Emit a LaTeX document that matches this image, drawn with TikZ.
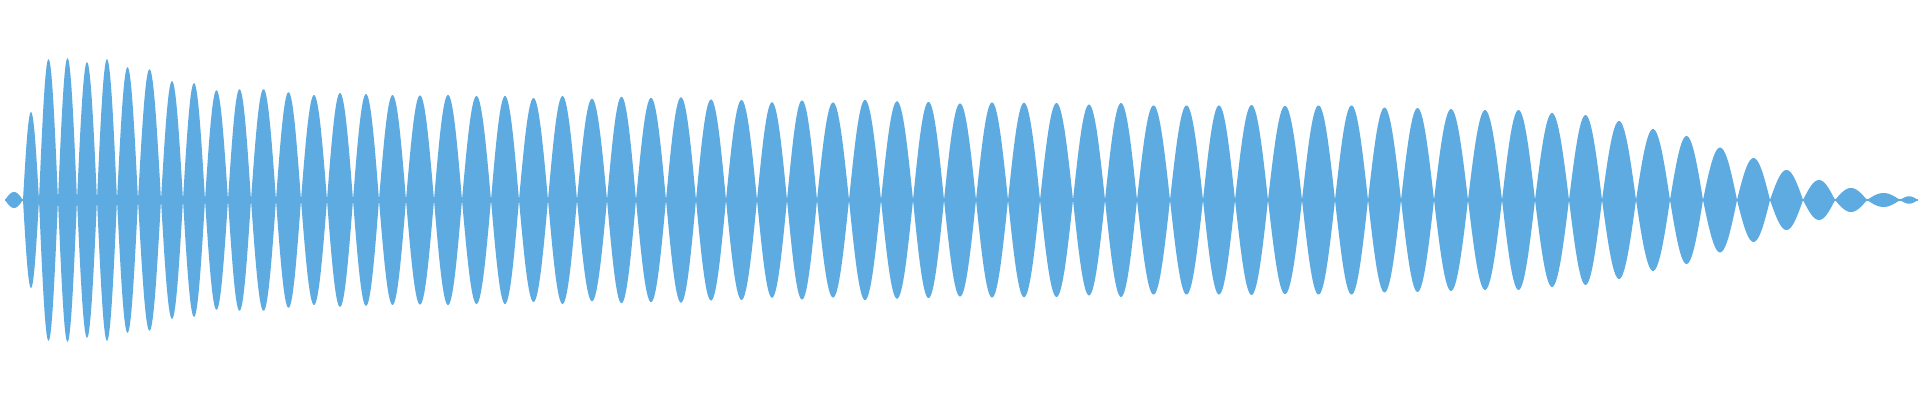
\documentclass[tikz,border=0pt]{standalone}
\definecolor{wave}{HTML}{5DABE1}
\begin{document}
\begin{tikzpicture}[x=0.5pt,y=-0.5pt]
\useasboundingbox (0,0) rectangle (1920,400);
\fill[white] (0,0) rectangle (1920,400);
\draw[wave,line width=1pt] (5,200) -- (1918,200);
\foreach \a/\b/\h in {
5/23/8,23/39/88,39/58/141,58/77/142,77/97/138,97/117/141,117/138/133,138/161/131,161/183/119,183/205/117,
205/228/110,228/251/111,251/276/111,276/301/108,301/327/105,327/353/107,353/379/106,
379/406/105,406/434/104.7,434/462/105.2,462/491/104,491/519/104,519/548/102,548/577/104,577/607/101.3,607/636/103.3,636/666/102.2,
666/696/102.8,696/726/100.7,726/757/100,757/787/97.8,787/817/99.7,817/849/97.7,849/881/100.2,881/913/98.8,913/944/98.2,
944/976/96.7,976/1008/97.7,1008/1040/97.3,1040/1073/97,1073/1105/95.5,1105/1137/97,1137/1170/94.7,1170/1203/94.7,1203/1235/94.7,
1235/1268/95,1268/1302/94.2,1302/1335/94.7,1335/1368/94.7,1368/1401/92.5,1401/1434/92,1434/1468/91,1468/1502/90,
1502/1535/90,1535/1569/87,1569/1602/85,1602/1636/79,1636/1670/71,1670/1703/64,1703/1737/52.5,1737/1770/42,1770/1803/30,
1803/1835/20,1835/1867/12,1867/1900/7,1900/1918/3.7}{
  \fill[wave] plot[domain=0:180,samples=24,variable=\t] ({\a+(\b-\a)*\t/180},{200-\h*sin(\t)})
    -- plot[domain=180:0,samples=24,variable=\t] ({\a+(\b-\a)*\t/180},{200+\h*sin(\t)}) -- cycle;
}
\end{tikzpicture}
\end{document}
